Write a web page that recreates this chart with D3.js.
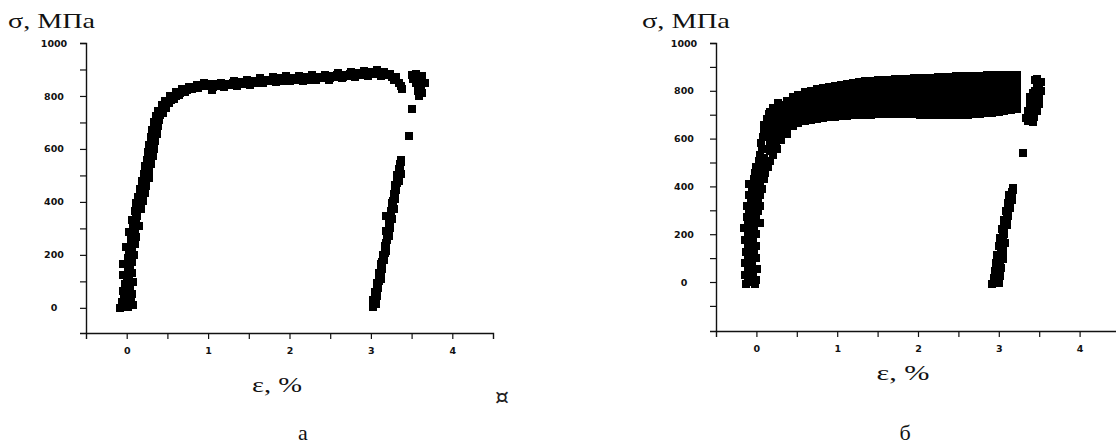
<!DOCTYPE html>
<html><head><meta charset="utf-8">
<script src="https://cdn.jsdelivr.net/npm/d3@7"></script>
<style>body{margin:0;background:#fff;overflow:hidden}</style>
</head><body>
<svg id="c" width="1116" height="444"></svg>
<script>
// ---------- data ----------
const xTicks = [0, 1, 2, 3, 4];
const xMinorTicks = [0.5, 1.5, 2.5, 3.5];
const yTicks = [0, 200, 400, 600, 800, 1000];
const yMinorLeft = [100, 300, 500, 700, 900];
const yMinorRight = [-100, 100, 300, 500, 700, 900];
const yTitle = "σ, МПа";
const xTitle = "ε, %";
const panelLabels = ["а", "б"];
const stray = "¤";

// panel а : [ε %, σ MPa]
const leftElastic = [[-0.08,0],[0.02,4],[0.08,10],[-0.06,22],[0.05,30],[-0.03,45],[0.07,52],[-0.05,65],[0.04,75],[-0.02,90],[0.08,96],[0.0,110],[-0.04,125],[0.06,132],[0.02,150],[-0.04,165],[0.07,172],[0.01,190],[0.09,200],[0.03,215],[-0.01,230],[0.1,240],[0.05,255],[0.12,268],[0.03,285],[0.08,300],[0.15,310],[0.07,330],[0.13,345],[0.1,365],[0.18,375],[0.12,395],[0.2,405],[0.14,420],[0.22,435],[0.16,450],[0.24,460],[0.19,480],[0.27,490],[0.21,505],[0.28,520],[0.22,535],[0.3,545],[0.25,560],[0.32,575],[0.26,590],[0.34,600],[0.28,615],[0.35,630],[0.3,645],[0.37,655],[0.31,670],[0.38,685],[0.33,700],[0.4,710],[0.36,725],[0.44,735],[0.39,745],[0.48,755],[0.43,765],[0.52,775],[0.47,782],[0.58,790],[0.53,800],[0.64,805],[0.6,815],[0.72,815],[0.68,826],[0.8,825],[0.77,835],[0.88,830],[0.86,842],[0.97,836],[0.95,848]];
const leftElasticMid = [[0.0,12],[0.01,37],[0.0,58],[0.02,82],[0.02,105],[0.03,118],[0.03,140],[0.04,158],[0.05,180],[0.05,205],[0.06,222],[0.07,245],[0.08,262],[0.09,278],[0.1,295],[0.11,318],[0.12,338],[0.13,355],[0.14,385],[0.16,410],[0.17,428],[0.19,445],[0.2,470],[0.22,495],[0.24,512],[0.25,528],[0.26,552],[0.28,568],[0.29,585],[0.31,608],[0.32,622],[0.33,640],[0.34,662],[0.35,678],[0.36,692],[0.38,718],[0.41,730],[0.44,748],[0.47,765],[0.5,778],[0.55,785],[0.6,800],[0.66,810],[0.74,822],[0.83,832],[0.92,840],[1.0,845]];
const leftPlateau = [[1.05,822],[1.08,845],[1.12,836],[1.16,850],[1.2,832],[1.24,847],[1.28,841],[1.32,855],[1.36,838],[1.4,852],[1.44,845],[1.48,862],[1.52,843],[1.56,858],[1.6,850],[1.64,866],[1.68,848],[1.72,862],[1.76,855],[1.8,870],[1.84,851],[1.88,866],[1.92,858],[1.96,874],[2.0,855],[2.04,869],[2.08,862],[2.12,876],[2.16,857],[2.2,870],[2.24,862],[2.28,878],[2.32,860],[2.36,873],[2.4,866],[2.44,881],[2.48,862],[2.52,876],[2.56,870],[2.6,886],[2.64,866],[2.68,880],[2.72,874],[2.76,892],[2.8,870],[2.84,887],[2.88,879],[2.92,896],[2.96,874],[3.0,890],[3.04,882],[3.08,898],[3.12,874],[3.16,889],[3.2,878],[3.24,884],[3.28,862],[3.31,870],[3.34,848],[3.37,836],[3.38,828]];
const leftPlateauMid = [[1.06,835],[1.1,838],[1.14,842],[1.18,841],[1.22,840],[1.26,844],[1.3,848],[1.34,846],[1.38,845],[1.42,849],[1.46,853],[1.5,852],[1.54,850],[1.58,854],[1.62,858],[1.66,857],[1.7,855],[1.74,858],[1.78,862],[1.82,861],[1.86,858],[1.9,862],[1.94,866],[1.98,864],[2.02,862],[2.06,865],[2.1,869],[2.14,867],[2.18,864],[2.22,866],[2.26,870],[2.3,869],[2.34,866],[2.38,869],[2.42,873],[2.46,872],[2.5,869],[2.54,873],[2.58,878],[2.62,876],[2.66,873],[2.7,877],[2.74,883],[2.78,881],[2.82,878],[2.86,883],[2.9,888],[2.94,885],[2.98,882],[3.02,886],[3.06,890],[3.1,886],[3.14,882],[3.18,884],[3.22,881],[3.26,873],[3.3,866]];
const leftFracture = [[3.5,880],[3.56,884],[3.63,876],[3.52,865],[3.6,862],[3.66,850],[3.55,848],[3.62,836],[3.58,820],[3.63,812],[3.59,800],[3.5,752],[3.47,650]];
const leftUnloading = [[3.02,5],[3.06,15],[3.03,30],[3.07,45],[3.05,60],[3.09,75],[3.08,95],[3.12,110],[3.1,130],[3.14,145],[3.12,165],[3.16,180],[3.15,200],[3.19,215],[3.17,235],[3.2,255],[3.22,270],[3.19,290],[3.24,300],[3.22,320],[3.26,335],[3.18,345],[3.25,355],[3.28,375],[3.26,395],[3.29,410],[3.28,430],[3.31,445],[3.3,465],[3.34,480],[3.32,500],[3.37,505],[3.34,525],[3.36,545],[3.37,560]];
const leftUnloadingMid = [[3.04,22],[3.05,38],[3.06,52],[3.07,68],[3.08,85],[3.1,102],[3.11,120],[3.12,138],[3.13,155],[3.14,172],[3.16,190],[3.17,208],[3.18,225],[3.19,245],[3.2,262],[3.21,280],[3.23,310],[3.24,328],[3.23,345],[3.25,365],[3.27,385],[3.27,403],[3.28,420],[3.3,438],[3.31,455],[3.32,472],[3.33,490],[3.35,515],[3.36,535],[3.37,552]];

// panel б : [ε %, σ MPa]
const rightElastic = [[-0.13,-10],[-0.02,-10],[-0.1,10],[0.0,10],[-0.14,30],[-0.04,30],[-0.11,55],[0.01,55],[-0.14,80],[-0.05,80],[-0.1,100],[0.0,100],[-0.13,125],[-0.03,125],[-0.1,150],[-0.01,150],[-0.14,175],[-0.04,175],[-0.11,200],[0.0,200],[-0.15,225],[-0.03,225],[-0.1,245],[0.04,245],[-0.12,270],[-0.01,270],[-0.09,295],[0.02,295],[-0.12,320],[0.05,320],[-0.07,340],[0.02,340],[-0.09,365],[0.05,365],[-0.05,390],[0.07,390],[-0.09,410],[0.04,410],[-0.03,430],[0.1,430],[-0.02,455],[0.11,455],[0.0,480],[0.14,480],[0.03,505],[0.17,505],[0.05,530],[0.21,530],[0.07,555],[0.25,555],[0.06,580],[0.08,605],[0.1,630],[0.1,655],[0.13,680],[0.16,705],[0.2,728],[0.27,750]];
const rightElasticMid = [[-0.07,0],[-0.06,20],[-0.08,42],[-0.06,68],[-0.09,90],[-0.05,112],[-0.07,138],[-0.05,162],[-0.08,188],[-0.05,212],[-0.08,236],[-0.04,258],[-0.06,283],[-0.03,308],[-0.04,330],[-0.02,352],[-0.02,378],[0.0,400],[-0.02,420],[0.03,442],[0.05,468],[0.07,492],[0.1,518]];
const rightKneeCols = [
 [0.17,550,575,600,625,650,675,700,712],[0.24,570,595,620,645,670,695,720,730],
 [0.31,595,620,645,670,695,720,742],[0.38,620,645,670,695,720,745,758]];
const rightPlateauCols = [
 [0.45,652,676,700,724,748,773],[0.52,664,688,712,736,760,783],[0.60,672,697,721,745,770,793],
 [0.67,677,702,727,751,776,800],[0.75,682,707,732,757,782,806],[0.82,686,711,736,761,786,811],
 [0.90,690,714,738,762,787,816],[0.97,692,716,740,764,788,808,820],[1.05,694,718,742,766,790,812,826],
 [1.12,696,720,744,768,792,815,829],[1.20,697,721,745,769,793,816,833],[1.27,698,722,746,770,794,818,836],
 [1.35,699,723,747,771,795,819,840],[1.42,700,724,748,772,796,820,842],[1.50,701,725,749,773,797,821,844],
 [1.57,702,726,750,774,798,822,845],[1.65,702,726,750,774,798,822,847],[1.72,702,726,750,774,798,822,848],
 [1.80,702,726,750,775,800,825,850],[1.87,702,726,750,775,800,825,850],[1.95,701,726,751,776,801,826,852],
 [2.02,700,725,750,776,801,827,853],[2.10,700,725,750,776,802,828,854],[2.17,699,725,751,777,803,829,854],
 [2.25,699,725,751,777,803,830,856],[2.32,698,724,750,776,802,830,857],[2.40,698,724,750,777,804,831,858],
 [2.47,698,724,751,778,805,833,860],[2.55,698,725,752,779,806,834,862],[2.62,700,727,754,780,807,835,862],
 [2.70,702,729,756,782,809,837,864],[2.77,704,731,758,784,810,838,864],[2.85,706,732,759,785,811,839,865],
 [2.92,708,734,760,786,812,840,866],[3.00,710,736,762,788,814,841,866],[3.07,714,740,765,790,815,842,867],
 [3.15,718,743,768,793,818,843,867],[3.22,724,748,772,796,820,845,867]];
const rightFracture = [[3.47,850],[3.52,835],[3.47,815],[3.52,800],[3.42,790],[3.5,775],[3.42,760],[3.5,745],[3.4,730],[3.47,715],[3.38,700],[3.44,690],[3.36,672],[3.42,668],[3.45,845],[3.5,820],[3.45,800],[3.39,775],[3.46,760],[3.44,740],[3.38,745],[3.43,720],[3.36,715],[3.4,700],[3.34,688],[3.4,680],[3.3,540]];
const rightUnloading = [[2.92,-8],[3.0,-5],[2.94,15],[3.02,25],[2.95,45],[3.03,60],[2.97,80],[3.05,95],[2.98,115],[3.05,130],[3.0,150],[3.08,165],[3.02,185],[3.07,200],[3.04,220],[3.1,240],[3.06,260],[3.12,275],[3.09,295],[3.14,310],[3.11,330],[3.16,345],[3.13,365],[3.17,385],[3.18,395]];
const rightUnloadingMid = [[2.96,5],[2.98,35],[2.99,62],[3.01,88],[3.02,108],[3.03,138],[3.04,160],[3.05,190],[3.06,210],[3.07,232],[3.08,250],[3.1,268],[3.11,288],[3.12,305],[3.13,322],[3.14,340],[3.15,358],[3.16,375]];

// ---------- drawing ----------
const svg = d3.select("#c");
const tickFont = "'DejaVu Sans', sans-serif";
const serif = "'Liberation Serif', 'Times New Roman', serif";

const cols = arr => arr.flatMap(c => c.slice(1).map(s => [c[0], s]));

const panels = [
  { xr:[86,493], yr:[333,43], yd:[-95,1000], yMinor:yMinorLeft, size:8,
    pts: leftElastic.concat(leftElasticMid, leftPlateau, leftPlateauMid, leftFracture, leftUnloading, leftUnloadingMid),
    yT:{x:8,y:28,len:87}, xT:{x:277,y:392,len:50}, lab:{x:303,y:440}, label:panelLabels[0] },
  { xr:[716,1120], yr:[331,43], yd:[-205,1000], yMinor:yMinorRight, size:8,
    pts: rightElastic.concat(rightElasticMid, cols(rightKneeCols), cols(rightPlateauCols), rightFracture, rightUnloading, rightUnloadingMid),
    yT:{x:642,y:28,len:88}, xT:{x:903,y:380,len:53}, lab:{x:905,y:440}, label:panelLabels[1] }
];

panels.forEach(p => {
  const x = d3.scaleLinear().domain([-0.5, 4.5]).range(p.xr);
  const y = d3.scaleLinear().domain(p.yd).range(p.yr);
  const g = svg.append("g");

  // axes
  const xa = g.append("g").attr("transform", `translate(0,${p.yr[0]})`)
    .call(d3.axisBottom(x).tickValues(xTicks.concat(xMinorTicks)).tickSizeOuter(0).tickSize(6).tickPadding(8)
      .tickFormat(d => xTicks.includes(d) ? d : ""));
  const ya = g.append("g").attr("transform", `translate(${p.xr[0]},0)`)
    .call(d3.axisLeft(y).tickValues(yTicks.concat(p.yMinor)).tickSizeOuter(0).tickSize(6).tickPadding(8)
      .tickFormat(d => yTicks.includes(d) ? d : ""));
  [xa, ya].forEach(a => {
    a.select(".domain").attr("stroke", "#111").attr("stroke-width", 1.4);
    a.selectAll(".tick line").attr("stroke", "#111").attr("stroke-width", 1.2);
    a.selectAll("text").attr("font-family", tickFont).attr("font-weight", "bold")
      .attr("font-size", "9.5px").attr("fill", "#111");
  });
  ya.selectAll(".tick text").attr("text-anchor", "middle").attr("x", -32);

  // points
  g.append("g").attr("shape-rendering", "crispEdges")
    .selectAll("rect").data(p.pts).join("rect")
    .attr("x", d => x(d[0]) - p.size / 2)
    .attr("y", d => y(d[1]) - p.size / 2)
    .attr("width", p.size).attr("height", p.size)
    .attr("fill", "#000");

  // titles
  g.append("text").attr("x", p.yT.x).attr("y", p.yT.y).text(yTitle)
    .attr("font-family", serif).attr("font-size", "21px").attr("fill", "#111")
    .attr("textLength", p.yT.len).attr("lengthAdjust", "spacingAndGlyphs");
  g.append("text").attr("x", p.xT.x - p.xT.len / 2).attr("y", p.xT.y).text(xTitle)
    .attr("font-family", serif).attr("font-size", "20px").attr("fill", "#111")
    .attr("textLength", p.xT.len).attr("lengthAdjust", "spacingAndGlyphs");
  g.append("text").attr("x", p.lab.x).attr("y", p.lab.y).attr("text-anchor", "middle").text(p.label)
    .attr("font-family", serif).attr("font-size", "22px").attr("fill", "#111");
});

svg.append("text").attr("x", 502).attr("y", 404).attr("text-anchor", "middle").text(stray)
  .attr("font-family", "'DejaVu Sans', sans-serif").attr("font-size", "22px").attr("fill", "#222");
</script>
</body></html>
